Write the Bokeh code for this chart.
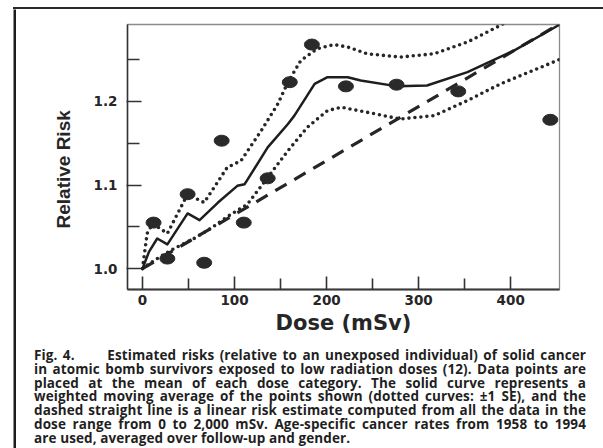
from bokeh.plotting import figure
from bokeh.models import FixedTicker, PrintfTickFormatter, Range1d, Spacer, Title, Div
from bokeh.layouts import column, row
from bokeh.embed import file_html
from bokeh.resources import INLINE

# ---- data ----
pt_x = [12, 27, 49, 67, 86, 110, 136, 160, 184, 221, 276, 343, 443]
pt_y = [1.055, 1.012, 1.089, 1.007, 1.153, 1.055, 1.108, 1.223, 1.268, 1.218, 1.220, 1.212, 1.178]

solid_x = [0, 7, 16, 27, 49, 62, 82, 103, 111, 136, 158, 165, 187, 201, 223, 237, 277, 309, 353, 404, 455]
solid_y = [1.000, 1.020, 1.036, 1.029, 1.066, 1.058, 1.079, 1.099, 1.101, 1.145, 1.173, 1.183,
           1.221, 1.229, 1.229, 1.225, 1.218, 1.219, 1.235, 1.261, 1.293]

upper_x = [0, 5, 11, 27, 49, 67, 92, 107, 129, 147, 158, 172, 190, 208, 223, 244, 280, 317, 353, 389, 396]
upper_y = [1.000, 1.042, 1.054, 1.042, 1.089, 1.079, 1.121, 1.129, 1.165, 1.197, 1.223, 1.249,
           1.263, 1.268, 1.265, 1.257, 1.253, 1.257, 1.271, 1.291, 1.296]

lower_x = [0, 13, 31, 56, 74, 92, 114, 136, 158, 179, 201, 216, 244, 280, 317, 353, 389, 455]
lower_y = [1.000, 1.010, 1.022, 1.036, 1.048, 1.062, 1.077, 1.109, 1.141, 1.169, 1.189, 1.193,
           1.187, 1.179, 1.183, 1.201, 1.221, 1.251]

linear_x = [0, 455]
linear_y = [1.000, 1.294]

x_major = [0, 100, 200, 300, 400]
x_minor = [50, 150, 250, 350]
y_major = [1.0, 1.1, 1.2]
y_minor = [1.05, 1.15, 1.25]

x_label = "Dose (mSv)"
y_label = "Relative Risk"

caption_lines = [
    "Fig. 4.\u00a0\u00a0\u00a0\u00a0\u00a0 Estimated risks (relative to an unexposed individual) of solid cancer",
    "in atomic bomb survivors exposed to low radiation doses (12). Data points are",
    "placed at the mean of each dose category. The solid curve represents a",
    "weighted moving average of the points shown (dotted curves: \u00b11 SE), and the",
    "dashed straight line is a linear risk estimate computed from all the data in the",
    "dose range from 0 to 2,000 mSv. Age-specific cancer rates from 1958 to 1994",
    "are used, averaged over follow-up and gender.",
]

INK = "#262626"


def bar(w, h, color):
    f = figure(width=w, height=h, toolbar_location=None, output_backend="svg",
               min_border=0, x_axis_type=None, y_axis_type=None)
    f.outline_line_color = None
    f.background_fill_color = color
    f.border_fill_color = color
    f.grid.visible = False
    return f


# ---- main chart ----
p = figure(width=587, height=330,
           x_range=Range1d(-16.3, 453), y_range=Range1d(0.975, 1.292),
           output_backend="svg", toolbar_location=None,
           min_border_left=111, min_border_right=44,
           min_border_top=15, min_border_bottom=50)
p.grid.visible = False
p.background_fill_color = "white"
p.border_fill_color = "white"
p.outline_line_color = "#8c8c8c"
p.outline_line_width = 1.3

xa = p.xaxis[0]
xa.ticker = FixedTicker(ticks=x_major, minor_ticks=x_minor)
xa.axis_line_color = "#3a3a3a"
xa.axis_line_width = 2
xa.major_tick_in = 13
xa.major_tick_out = 0
xa.minor_tick_in = 11
xa.minor_tick_out = 0
xa.major_tick_line_color = "#333333"
xa.minor_tick_line_color = "#333333"
xa.major_tick_line_width = 1.6
xa.minor_tick_line_width = 1.6
xa.major_label_text_font = "DejaVu Sans"
xa.major_label_text_font_style = "bold"
xa.major_label_text_font_size = "13.5px"
xa.major_label_text_color = INK
xa.major_label_standoff = 5
xa.axis_label = x_label
xa.axis_label_text_font = "DejaVu Sans"
xa.axis_label_text_font_style = "bold"
xa.axis_label_text_font_size = "21px"
xa.axis_label_text_color = INK
xa.axis_label_standoff = 3

ya = p.yaxis[0]
ya.ticker = FixedTicker(ticks=y_major, minor_ticks=y_minor)
ya.formatter = PrintfTickFormatter(format="%.1f")
ya.axis_line_color = "#333333"
ya.axis_line_width = 1.5
ya.major_tick_in = 14
ya.major_tick_out = 1
ya.minor_tick_in = 12
ya.minor_tick_out = 0
ya.major_tick_line_color = "#333333"
ya.minor_tick_line_color = "#333333"
ya.major_tick_line_width = 1.4
ya.minor_tick_line_width = 1.4
ya.major_label_text_font = "DejaVu Sans"
ya.major_label_text_font_style = "bold"
ya.major_label_text_font_size = "13.5px"
ya.major_label_text_color = INK
ya.major_label_standoff = 9

p.add_layout(Title(text=y_label, align="left", offset=61, standoff=34,
                   text_font="Liberation Sans", text_font_style="bold",
                   text_font_size="19px", text_color=INK), "left")

p.line(linear_x, linear_y, line_width=3.2, line_dash="13 9", line_color=INK)
p.line(upper_x, upper_y, line_width=3.6, line_dash="0 6", line_cap="round", line_color=INK)
p.line(lower_x, lower_y, line_width=3.6, line_dash="0 6", line_cap="round", line_color=INK)
p.line(solid_x, solid_y, line_width=2.5, line_color="#1e1e1e", line_join="round")
p.ellipse(x=pt_x, y=pt_y, width=15, height=11, width_units="screen", height_units="screen",
          fill_color="#2a2a2a", line_color="#2a2a2a")

# ---- caption (justified HTML text) ----
JUST = 'display:block;width:100%;text-align:justify;text-align-last:justify;'
LEFT = 'display:block;width:100%;text-align:left;'
rows = []
for i, line in enumerate(caption_lines):
    style = JUST if i < len(caption_lines) - 1 else LEFT
    rows.append('<div style="' + style + '">' + line + '</div>')
cap_html = ('<div style="display:block;box-sizing:border-box;width:587px;'
            'font-family:\'Open Sans\';font-weight:700;font-size:13.5px;letter-spacing:0.1px;'
            'line-height:13.8px;color:#1f1f1f;padding:10px 17px 0 18px;">' + "".join(rows) + '</div>')
cap = Div(text=cap_html, width=587, height=109, margin=0)

# top rule of the figure panel
top_rule = Div(text='<div style="position:absolute;left:0;top:0;width:590px;height:2px;'
                    'background:#2a2a2a;"></div>',
               width=590, height=2, margin=0)

layout = column(
    Spacer(width=603, height=7),
    row(Spacer(width=13, height=2), top_rule),
    row(Spacer(width=13, height=439),
        bar(3, 439, "#1c1c1c"),
        column(p, cap)),
)

open("out.html", "w").write(file_html(layout, INLINE))
